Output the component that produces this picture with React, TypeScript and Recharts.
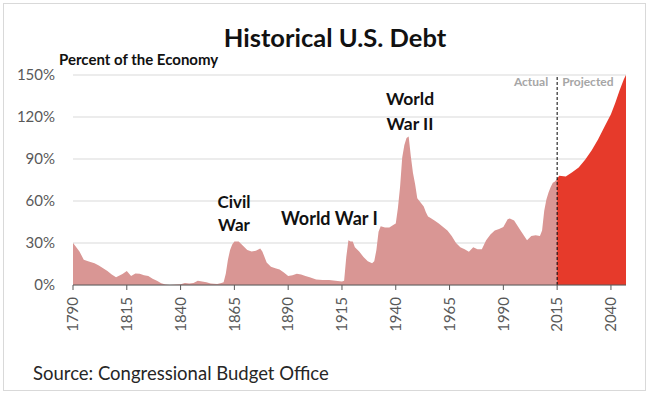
import { Area, AreaChart, CartesianGrid, ReferenceLine, XAxis, YAxis } from "recharts";

const FONT = "Lato, 'Open Sans', sans-serif";

// debt as percent of GDP
const actualYears = [
  1790, 1791, 1793, 1795, 1797, 1800, 1802, 1804, 1806, 1808, 1810, 1813, 1815, 1817, 1819, 1821,
  1823, 1825, 1827, 1829, 1831, 1833, 1835, 1838, 1840, 1842, 1844, 1846, 1848, 1850, 1852, 1854,
  1857, 1859, 1860, 1861, 1862, 1863, 1864, 1865, 1867, 1869, 1871, 1873, 1875, 1877, 1878, 1880,
  1882, 1884, 1886, 1888, 1890, 1892, 1894, 1896, 1898, 1900, 1903, 1906, 1909, 1912, 1915, 1916,
  1917, 1918, 1919, 1920, 1921, 1923, 1925, 1927, 1929, 1930, 1931, 1932, 1933, 1935, 1937, 1939,
  1940, 1941, 1942, 1943, 1944, 1945, 1946, 1947, 1948, 1949, 1950, 1951, 1952, 1953, 1954, 1955,
  1956, 1958, 1960, 1962, 1964, 1966, 1968, 1970, 1972, 1974, 1976, 1978, 1980, 1982, 1984, 1986,
  1988, 1990, 1992, 1993, 1995, 1998, 2001, 2003, 2005, 2007, 2008, 2009, 2010, 2011, 2012, 2013,
  2014, 2015,
];
const actualDebt = [
  30, 28, 24, 18, 17, 15.5, 14, 12, 10, 7.5, 5.5, 7.8, 10, 6.5, 8.3, 8,
  7, 6.4, 4.5, 3, 1.2, 0.3, 0, 0.3, 0.5, 1.5, 1, 1.5, 3, 2.5, 2, 1,
  0.8, 1.5, 2, 8, 18, 25, 29, 31, 31, 28, 25, 24, 24.5, 26, 24, 16,
  13, 12, 11, 9, 6.5, 7, 8, 7.5, 6.5, 5.5, 4, 3.5, 3.5, 3, 2.5, 3,
  20, 32, 31, 31, 27, 24, 20, 17, 15.5, 17, 25, 38, 42, 41, 41, 43,
  44, 55, 70, 91, 100, 105, 106, 92, 80, 72, 62, 60, 58, 56, 52, 49,
  48, 46, 44, 41.5, 39, 35, 30, 27, 25.5, 23.8, 27, 25.5, 25.5, 32, 36, 39,
  40, 41.5, 47, 47.5, 46, 39, 32, 35, 35.5, 35, 39, 53, 61, 66, 70, 73,
  74, 76,
];
const projectedYears = [2015, 2016, 2019, 2022, 2025, 2028, 2031, 2034, 2037, 2040, 2042, 2044, 2046, 2047];
const projectedDebt = [76, 78, 77.5, 80.5, 84, 89.5, 96, 104, 113, 122, 130, 139, 147, 150];

const yearTicks = [1790, 1815, 1840, 1865, 1890, 1915, 1940, 1965, 1990, 2015, 2040];
const percentTicks = [0, 30, 60, 90, 120, 150];

const chartData = [
  ...actualYears.map((year, i) => ({
    year,
    actual: actualDebt[i],
    projected: year === projectedYears[0] ? projectedDebt[0] : undefined,
  })),
  ...projectedYears.slice(1).map((year, i) => ({ year, projected: projectedDebt[i + 1] })),
];

function YearTick({ x, y, payload }: any) {
  return (
    <text
      x={x}
      y={y}
      transform={`rotate(-90, ${x}, ${y})`}
      textAnchor="end"
      dy="0.35em"
      fill="#595959"
      fontSize={15}
      fontFamily={FONT}
    >
      {payload.value}
    </text>
  );
}

function SplitLabel({ viewBox }: any) {
  const { x, y } = viewBox;
  return (
    <g fontFamily={FONT} fontWeight="bold" fontSize={12} fill="#a6a6a6">
      <text x={x - 9} y={y + 11} textAnchor="end">
        Actual
      </text>
      <text x={x + 5} y={y + 11}>
        Projected
      </text>
    </g>
  );
}

export default function App() {
  return (
    <div style={{ position: "absolute", left: 0, top: 0, width: 650, height: 394, background: "#fff" }}>
      <div
        style={{
          position: "absolute",
          left: 3,
          top: 3,
          width: 641,
          height: 386,
          border: "1px solid #d9d9d9",
        }}
      />
      <AreaChart
        width={650}
        height={394}
        data={chartData}
        margin={{ top: 75, right: 24, left: 13, bottom: 49 }}
      >
        <CartesianGrid vertical={false} stroke="#d9d9d9" />
        <XAxis
          dataKey="year"
          type="number"
          domain={[1790, 2047]}
          ticks={yearTicks}
          interval={0}
          tick={<YearTick />}
          tickSize={5}
          tickMargin={7}
          axisLine={{ stroke: "#595959" }}
          tickLine={{ stroke: "#595959" }}
          height={60}
        />
        <YAxis
          domain={[0, 150]}
          ticks={percentTicks}
          tickFormatter={(v) => `${v}%`}
          axisLine={false}
          tickLine={false}
          tickSize={0}
          tickMargin={18}
          width={60}
          tick={{ fill: "#595959", fontSize: 15, fontFamily: FONT }}
        />
        <Area
          dataKey="actual"
          type="linear"
          stroke="none"
          fill="#d99694"
          fillOpacity={1}
          isAnimationActive={false}
        />
        <Area
          dataKey="projected"
          type="linear"
          stroke="none"
          fill="#e63a2b"
          fillOpacity={1}
          isAnimationActive={false}
        />
        <ReferenceLine x={2015} stroke="#000" strokeDasharray="3 2" label={<SplitLabel />} />
      </AreaChart>
      <svg
        width={650}
        height={394}
        style={{ position: "absolute", left: 0, top: 0, pointerEvents: "none" }}
        fontFamily={FONT}
      >
        <text x={335} y={47} textAnchor="middle" fontWeight="bold" fontSize={25.5} fill="#111">
          Historical U.S. Debt
        </text>
        <text x={59} y={65} fontWeight="bold" fontSize={15} fill="#111">
          Percent of the Economy
        </text>
        <g fontWeight="bold" fontSize={17} fill="#111">
          <text x={234} y={208} textAnchor="middle">Civil</text>
          <text x={234} y={231} textAnchor="middle">War</text>
          <text x={281} y={225} fontSize={18}>World War I</text>
          <text x={410} y={105} textAnchor="middle" fontSize={17.5}>World</text>
          <text x={410} y={130} textAnchor="middle" fontSize={17.5}>War II</text>
        </g>
        <text x={33} y={380} fontSize={18.5} fill="#262626">
          Source: Congressional Budget Office
        </text>
      </svg>
    </div>
  );
}
